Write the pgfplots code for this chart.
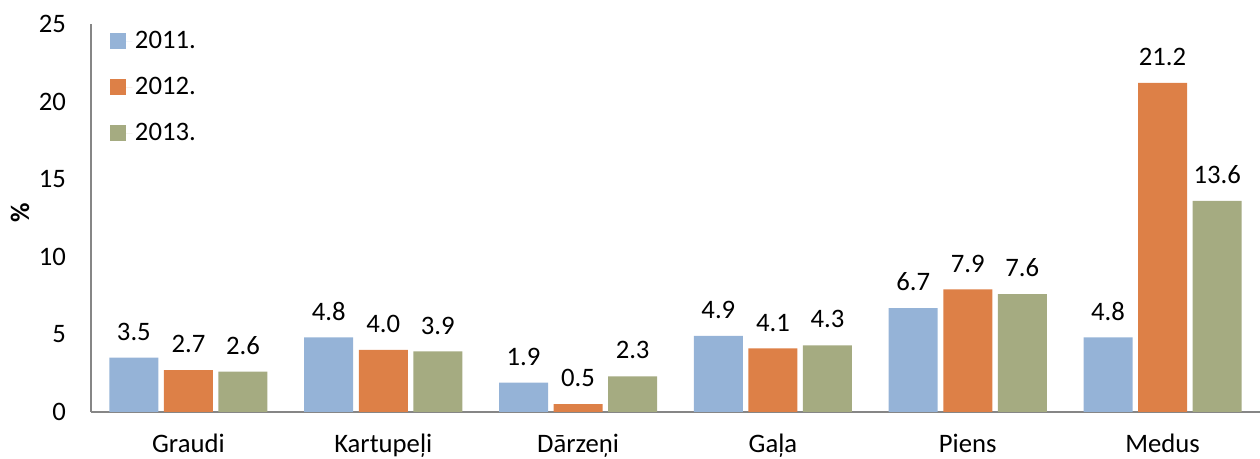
\documentclass[border=0pt]{standalone}
\usepackage{pgfplots}
\pgfplotsset{compat=1.18}
\usepackage{fontspec}
\setmainfont{Carlito}
\definecolor{c11}{HTML}{95B3D7}
\definecolor{c12}{HTML}{DD8047}
\definecolor{c13}{HTML}{A5AB81}
\definecolor{axgray}{HTML}{868686}
\begin{document}
\fontsize{20pt}{24pt}\selectfont
\begin{tikzpicture}
\useasboundingbox (-68.25pt,-35.25pt) rectangle (876.75pt,309pt);
\begin{axis}[
  at={(0,0)}, anchor=south west,
  scale only axis, width=876.75pt, height=291pt,
  xmin=-0.5, xmax=5.5, ymin=0, ymax=25,
  ytick={0,5,10,15,20,25},
  xtick={0,1,2,3,4,5},
  xticklabels={Graudi,Kartupeļi,Dārzeņi,Gaļa,Piens,Medus},
  axis x line=bottom, axis y line=left,
  axis line style={-, axgray, line width=1.2pt},
  major tick length=0pt,
  tick label style={font=\fontsize{20pt}{24pt}\selectfont},
  /pgf/number format/assume math mode=true,
  yticklabel style={xshift=-12pt},
  xticklabel style={yshift=-10pt},
  ybar, bar width=0.2515,
  nodes near coords,
  nodes near coords style={font=\fontsize{20pt}{24pt}\selectfont, yshift=6pt,
    /pgf/number format/fixed, /pgf/number format/fixed zerofill, /pgf/number format/precision=1, /pgf/number format/assume math mode=true},
  legend style={at={(rel axis cs:0.0163,0.99)}, anchor=north west, draw=none, fill=none,
    font=\fontsize{20pt}{24pt}\selectfont, row sep=14.5pt, inner sep=0pt},
  legend cell align=left,
  legend image code/.code={\fill[#1,draw=none] (0pt,-6pt) rectangle (12pt,6pt); \path (0pt,0pt) -- (16.5pt,0pt);},
]
\addplot[fill=c11, draw=none, bar shift=-0.28] coordinates {(0,3.5) (1,4.8) (2,1.9) (3,4.9) (4,6.7) (5,4.8)};
\addplot[fill=c12, draw=none, bar shift=0] coordinates {(0,2.7) (1,4.0) (2,0.5) (3,4.1) (4,7.9) (5,21.2)};
\addplot[fill=c13, draw=none, bar shift=0.28] coordinates {(0,2.6) (1,3.9) (2,2.3) (3,4.3) (4,7.6) (5,13.6)};
\legend{2011.,2012.,2013.}
\end{axis}
\node[rotate=90, anchor=center, font=\fontsize{20pt}{24pt}\selectfont\bfseries] at (-53.25pt,149.25pt) {\%};
\end{tikzpicture}
\end{document}
